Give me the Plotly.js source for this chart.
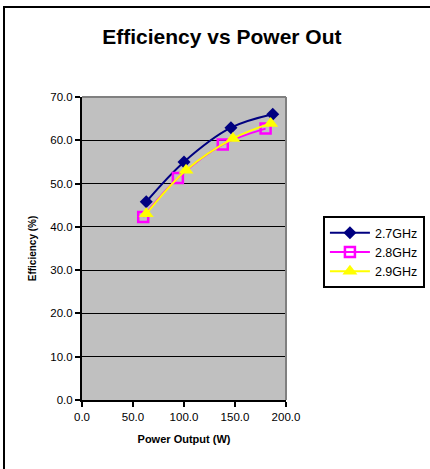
<!DOCTYPE html>
<html>
<head>
<meta charset="utf-8">
<script src="https://cdn.plot.ly/plotly-3.0.1.min.js"></script>
<style>
  html, body { margin: 0; padding: 0; background: #ffffff; }
  #chart { position: absolute; left: 0; top: 0; width: 430px; height: 469px; }
  #frame { position: absolute; left: 3px; top: 6px; width: 440px; height: 480px;
           border-left: 2px solid #000; border-top: 2px solid #000; pointer-events: none; }
</style>
</head>
<body>
<div id="chart"></div>
<div id="frame"></div>
<script>
const seriesNames = ["2.7GHz", "2.8GHz", "2.9GHz"];
const power27 = [63, 100, 146, 187];
const eff27   = [45.8, 55.0, 62.9, 66.0];
const power28 = [60, 94, 138, 180];
const eff28   = [42.3, 51.3, 59.0, 62.7];
const power29 = [63, 102, 148, 185];
const eff29   = [43.0, 53.1, 60.4, 63.9];

const FONT = '"Liberation Sans", Arial, sans-serif';

const traces = [
  { x: power27, y: eff27, name: seriesNames[0], mode: 'lines+markers',
    line: { color: '#000080', width: 2, shape: 'spline' },
    marker: { symbol: 'diamond', size: 10, color: '#000080' } },
  { x: power28, y: eff28, name: seriesNames[1], mode: 'lines+markers',
    line: { color: '#FF00FF', width: 2, shape: 'spline' },
    marker: { symbol: 'square-open', size: 10, color: '#FF00FF', line: { width: 2.5, color: '#FF00FF' } } },
  { x: power29, y: eff29, name: seriesNames[2], mode: 'lines+markers',
    line: { color: '#FFFF00', width: 2, shape: 'spline' },
    marker: { symbol: 'triangle-up', size: 13, color: '#FFFF00' } }
];

const layout = {
  width: 430, height: 469,
  margin: { l: 82, r: 144, t: 97, b: 69, autoexpand: false },
  paper_bgcolor: '#ffffff',
  plot_bgcolor: '#c0c0c0',
  font: { family: FONT, size: 11, color: '#000' },
  showlegend: true,
  title: { text: '<b>Efficiency vs Power Out</b>', font: { family: FONT, size: 21, color: '#000' },
           x: 0.516, xanchor: 'center', y: 0.922, yanchor: 'middle', xref: 'container', yref: 'container' },
  xaxis: {
    range: [0, 200], dtick: 50, tick0: 0, tickformat: '.1f',
    showgrid: false, zeroline: false,
    showline: true, linecolor: '#000', linewidth: 2,
    ticks: 'outside', ticklen: 5, tickwidth: 2, tickcolor: '#000',
    tickfont: { family: FONT, size: 11.5 },
    title: { text: '<b>Power Output (W)</b>', font: { family: FONT, size: 11 }, standoff: 14 }
  },
  yaxis: {
    range: [0, 70], dtick: 10, tick0: 0, tickformat: '.1f',
    showgrid: true, gridcolor: '#000', gridwidth: 1, zeroline: false,
    showline: true, linecolor: '#000', linewidth: 2,
    ticks: 'outside', ticklen: 5, tickwidth: 2, tickcolor: '#000',
    tickfont: { family: FONT, size: 11.5 },
    title: { text: '<b>Efficiency (%)</b>', font: { family: FONT, size: 10 }, standoff: 12 }
  },
  legend: {
    x: 1.181, xanchor: 'left', y: 0.607, yanchor: 'top',
    bgcolor: '#ffffff', bordercolor: '#000', borderwidth: 2,
    font: { family: FONT, size: 12.5 }, itemwidth: 40
  },
  shapes: [
    { type: 'line', xref: 'paper', yref: 'paper', x0: 0, x1: 1, y0: 1, y1: 1, line: { color: '#808080', width: 2 } },
    { type: 'line', xref: 'paper', yref: 'paper', x0: 1, x1: 1, y0: 0, y1: 1, line: { color: '#808080', width: 2 } }
  ]
};

Plotly.newPlot('chart', traces, layout, { displayModeBar: false, staticPlot: true });
</script>
</body>
</html>
